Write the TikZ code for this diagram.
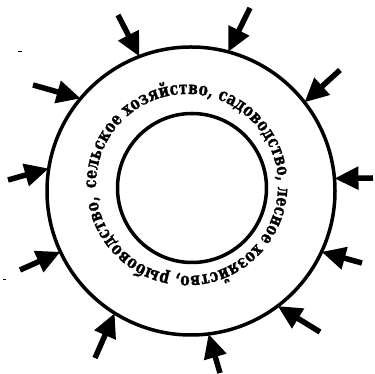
\documentclass[tikz,border=0pt]{standalone}
\usepackage{fontspec}
\setmainfont[FakeStretch=0.78,BoldFeatures={FakeBold=1.2}]{DejaVu Serif}
\usetikzlibrary{arrows.meta,decorations.text}
\begin{document}
\begin{tikzpicture}[x=1pt,y=1pt,
  ring/.style={circle,draw,line width=3.5pt,inner sep=0pt,outer sep=0pt},
  inarrow/.style={line width=5.5pt,-{Triangle[length=24pt,width=22pt]}},
  speck/.style={line width=1pt}]
\useasboundingbox (0,0) rectangle (375,374);
\node[ring,minimum size=288pt] (outer) at (191,183) {};
\node[ring,minimum size=149pt] (inner) at (192,186) {};
\coordinate (tc) at (187,189);
\path[decorate,decoration={text along path,text align=fit to path,
  text={|\bfseries\fontsize{18}{18}\selectfont|сельское хозяйство, садоводство, лесное хозяйство, рыбоводство,}}]
  (tc) ++(182:91) arc[start angle=182,end angle=-173,radius=91];
% arrow tails
\coordinate (t1) at (118,359);
\coordinate (t2) at (250,366);
\coordinate (t3) at (340,304);
\coordinate (t4) at (373,196);
\coordinate (t5) at (362,111);
\coordinate (t6) at (320,42);
\coordinate (t7) at (220,1);
\coordinate (t8) at (95,16);
\coordinate (t9) at (20,104);
\coordinate (t10) at (8,194);
\coordinate (t11) at (33,289);
\draw[inarrow] (t1) -- (outer.111);
\draw[inarrow] (t2) -- (outer.75);
\draw[inarrow] (t3) -- (outer.38);
\draw[inarrow] (t4) -- (outer.5);
\draw[inarrow] (t5) -- (outer.-25);
\draw[inarrow] (t6) -- (outer.-53);
\draw[inarrow] (t7) -- (outer.-83);
\draw[inarrow] (t8) -- (outer.-122.6);
\draw[inarrow] (t9) -- (outer.-155.4);
\draw[inarrow] (t10) -- (outer.171.7);
\draw[inarrow] (t11) -- (outer.140.7);
% specks
\coordinate (s1) at (18,322);
\coordinate (s2) at (22,322);
\coordinate (s3) at (3,94);
\coordinate (s4) at (6,94);
\draw[speck] (s1) -- (s2);
\draw[speck] (s3) -- (s4);
\end{tikzpicture}
\end{document}
